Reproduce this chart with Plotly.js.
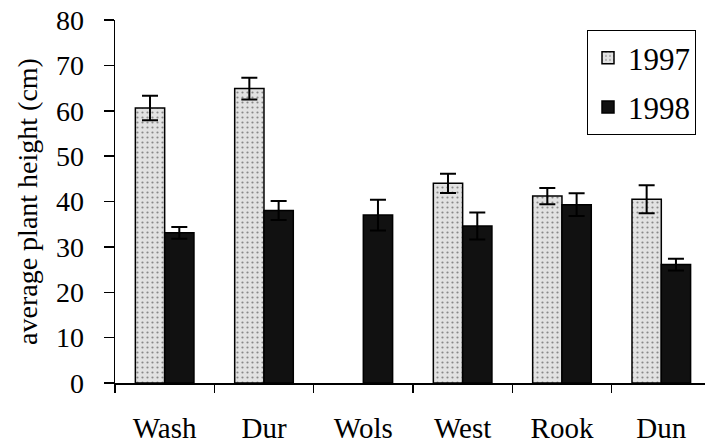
<!DOCTYPE html>
<html>
<head>
<meta charset="utf-8">
<script src="https://cdn.plot.ly/plotly-3.0.1.min.js"></script>
<style>html,body{margin:0;padding:0;background:#fff;overflow:hidden}</style>
</head>
<body>
<div id="chart" style="width:705px;height:446px"></div>
<script>
const categories = ["Wash", "Dur", "Wols", "West", "Rook", "Dun"];
const heights1997 = [60.6, 64.9, null, 44.0, 41.2, 40.5];
const err1997 = [2.7, 2.4, 0, 2.1, 1.8, 3.1];
const heights1998 = [33.1, 38.0, 37.0, 34.6, 39.3, 26.1];
const err1998 = [1.3, 2.1, 3.4, 3.0, 2.5, 1.3];
const yTicks = [0, 10, 20, 30, 40, 50, 60, 70, 80];

const font = "Liberation Serif, Times New Roman, serif";

const traces = [
  {
    type: "bar", name: "1997", x: categories, y: heights1997, legendgroup: "a",
    marker: {color: "#dcdcdc", line: {color: "#000", width: 1.5},
             pattern: {shape: ".", fgcolor: "#888", bgcolor: "#e2e2e2", size: 5, solidity: 0.15}},
    error_y: {type: "data", array: err1997, visible: true, color: "#000", thickness: 2, width: 8}
  },
  {
    type: "bar", name: "1998", x: categories, y: heights1998, legendgroup: "b",
    marker: {color: "#111", line: {color: "#000", width: 1.5}},
    error_y: {type: "data", array: err1998, visible: true, color: "#000", thickness: 2, width: 8}
  }
];

const layout = {
  width: 705, height: 446,
  margin: {l: 115, r: 0, t: 20, b: 63},
  paper_bgcolor: "#fff", plot_bgcolor: "#fff",
  barmode: "group", bargap: 0.41, bargroupgap: 0,
  font: {family: font, color: "#000", size: 28},
  showlegend: true,
  legend: {x: 0.8, y: 0.972, xanchor: "left", yanchor: "top",
           bordercolor: "#000", borderwidth: 1, bgcolor: "#fff",
           font: {family: font, size: 31, color: "#000"},
           itemwidth: 30, traceorder: "grouped", tracegroupgap: 6},
  xaxis: {
    type: "category", range: [-0.5, 5.44],
    showline: true, linecolor: "#000", linewidth: 1.5,
    ticks: "outside", tickson: "boundaries", ticklen: 8, tickcolor: "#000", tickwidth: 1.5,
    ticklabelstandoff: 19,
    tickfont: {family: font, size: 29, color: "#000"},
    showgrid: false, zeroline: false, fixedrange: true
  },
  yaxis: {
    range: [0, 80], tickvals: yTicks, ticktext: yTicks.map(String),
    showline: true, linecolor: "#000", linewidth: 1.5,
    ticks: "outside", ticklen: 10, tickcolor: "#000", tickwidth: 1.5,
    ticklabelstandoff: 14,
    tickfont: {family: font, size: 28, color: "#000"},
    showgrid: false, zeroline: false,
    title: {text: "average plant height (cm)", font: {family: font, size: 28, color: "#000"}, standoff: 10},
    fixedrange: true
  }
};

Plotly.newPlot("chart", traces, layout, {displayModeBar: false, staticPlot: true});
</script>
</body>
</html>
